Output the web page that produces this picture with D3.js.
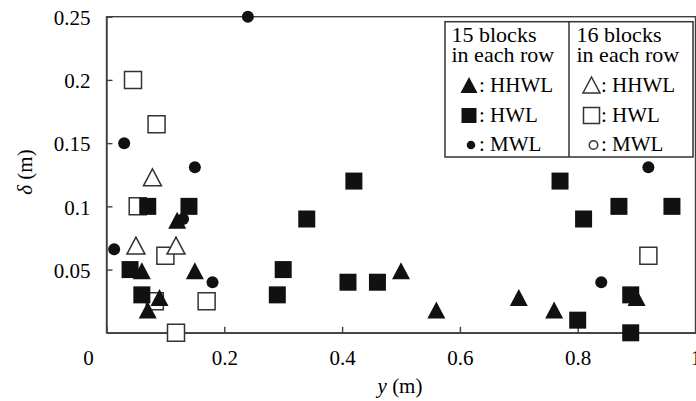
<!DOCTYPE html>
<html>
<head>
<meta charset="utf-8">
<script src="https://cdn.jsdelivr.net/npm/d3@7/dist/d3.min.js"></script>
<style>
  body { margin: 0; background: #fff; }
  svg text { font-family: "Liberation Serif", "Times New Roman", serif !important; }
  .axis path, .axis line { stroke: #404040; stroke-width: 1.4; }
  .frame { fill: none; stroke: #404040; stroke-width: 1.4; }
  .legend-box { fill: #fff; stroke: #333; stroke-width: 1.5; }
  .filled { fill: #111; stroke: none; }
  .open { fill: #fff; stroke: #333; stroke-width: 1.5; }
</style>
</head>
<body>
<svg id="chart" width="696" height="401"></svg>
<script>
// [y (m), delta (m)] pairs
// 15 blocks in each row
let hhwl15 = [[0.12, 0.089], [0.06, 0.049], [0.15, 0.049], [0.09, 0.028], [0.07, 0.018],
              [0.50, 0.049], [0.56, 0.018], [0.70, 0.028], [0.76, 0.018], [0.90, 0.028]];
let hwl15 = [[0.07, 0.10], [0.14, 0.10], [0.04, 0.05], [0.06, 0.03], [0.42, 0.12],
             [0.34, 0.09], [0.30, 0.05], [0.29, 0.03], [0.41, 0.04], [0.46, 0.04],
             [0.77, 0.12], [0.87, 0.10], [0.96, 0.10], [0.81, 0.09], [0.89, 0.03],
             [0.80, 0.01], [0.89, 0.0]];
let mwl15 = [[0.24, 0.25], [0.03, 0.15], [0.15, 0.131], [0.13, 0.09], [0.013, 0.066],
             [0.18, 0.04], [0.92, 0.131], [0.84, 0.04]];
// 16 blocks in each row
let hhwl16 = [[0.078, 0.123], [0.05, 0.069], [0.118, 0.069]];
let hwl16 = [[0.045, 0.20], [0.085, 0.165], [0.053, 0.10], [0.10, 0.061], [0.082, 0.025],
             [0.17, 0.025], [0.118, 0.0], [0.92, 0.061]];
let mwl16 = [];

let xTicks = [0, 0.2, 0.4, 0.6, 0.8, 1];
let xTickLabels = ["0", "0.2", "0.4", "0.6", "0.8", "1"];
let yTicks = [0.05, 0.1, 0.15, 0.2, 0.25];
let yTickLabels = ["0.05", "0.1", "0.15", "0.2", "0.25"];

let svg = d3.select("#chart");

let x = d3.scaleLinear().domain([0, 1]).range([106.5, 695.5]);
let y = d3.scaleLinear().domain([0, 0.25]).range([332.8, 16.7]);

// marker paths, centred on the bounding box
function shape(type, s) {
    let h = s / 2;
    if (type == "triangle") {
        return "M0," + (-h) + "L" + (h + 0.5) + "," + h + "L" + (-h - 0.5) + "," + h + "Z";
    }
    if (type == "square") {
        return "M" + (-h) + "," + (-h) + "h" + s + "v" + s + "h" + (-s) + "Z";
    }
    return d3.arc()({ innerRadius: 0, outerRadius: h, startAngle: 0, endAngle: 2 * Math.PI });
}

// frame
svg.append("rect")
    .attr("class", "frame")
    .attr("x", x(0))
    .attr("y", y(0.25))
    .attr("width", x(1) - x(0))
    .attr("height", y(0) - y(0.25));

// x axis
let gx = svg.append("g")
    .attr("class", "axis axis--x")
    .attr("transform", "translate(0," + y(0) + ")")
    .call(d3.axisBottom(x)
        .tickValues(xTicks)
        .tickFormat((d, i) => xTickLabels[i])
        .tickSizeInner(-6)
        .tickSizeOuter(0)
        .tickPadding(17))
    .attr("font-family", null)
    .attr("font-size", 21);

gx.selectAll(".tick text")
    .attr("fill", "#000")
    .filter(d => d == 0)
    .attr("x", -18.5);

// y axis
svg.append("g")
    .attr("class", "axis axis--y")
    .attr("transform", "translate(" + x(0) + ",0)")
    .call(d3.axisLeft(y)
        .tickValues(yTicks)
        .tickFormat((d, i) => yTickLabels[i])
        .tickSizeInner(-6)
        .tickSizeOuter(0)
        .tickPadding(16))
    .attr("font-family", null)
    .attr("font-size", 21)
    .selectAll(".tick text")
    .attr("fill", "#000")
    .attr("dy", "0.37em");

// axis titles
let xt = svg.append("text")
    .attr("x", 400)
    .attr("y", 393)
    .attr("text-anchor", "middle")
    .attr("font-size", 21);
xt.append("tspan").attr("font-style", "italic").text("y");
xt.append("tspan").text(" (m)");

let yt = svg.append("text")
    .attr("transform", "translate(32,172) rotate(-90)")
    .attr("text-anchor", "middle")
    .attr("font-size", 21);
yt.append("tspan").attr("font-style", "italic").text("δ");
yt.append("tspan").text(" (m)");

// data marks: open series first, filled on top
let series = [
    { data: hwl16, type: "square", size: 17, cls: "open" },
    { data: hhwl16, type: "triangle", size: 17, cls: "open" },
    { data: mwl16, type: "circle", size: 12, cls: "open" },
    { data: mwl15, type: "circle", size: 12, cls: "filled" },
    { data: hwl15, type: "square", size: 17, cls: "filled" },
    { data: hhwl15, type: "triangle", size: 17, cls: "filled" }
];

series.forEach(s => {
    svg.append("g")
        .selectAll("path")
        .data(s.data)
        .enter().append("path")
        .attr("class", s.cls)
        .attr("d", shape(s.type, s.size))
        .attr("transform", d => "translate(" + x(d[0]) + "," + y(d[1]) + ")");
});

// legend
let legend = svg.append("g").attr("class", "legend");

legend.append("rect")
    .attr("class", "legend-box")
    .attr("x", 445)
    .attr("y", 21.7)
    .attr("width", 248)
    .attr("height", 135.3);

legend.append("line")
    .attr("x1", 569).attr("x2", 569)
    .attr("y1", 21.7).attr("y2", 157)
    .attr("stroke", "#333")
    .attr("stroke-width", 1.5);

let columns = [
    { x: 451.5, head: ["15 blocks", "in each row"], cls: "filled", symX: 469, textX: 479,
      rows: [{ type: "triangle", size: 16, label: ": HHWL" },
             { type: "square", size: 15, label: ": HWL" },
             { type: "circle", size: 8.5, label: ": MWL" }] },
    { x: 576.5, head: ["16 blocks", "in each row"], cls: "open", symX: 591.5, textX: 601,
      rows: [{ type: "triangle", size: 16, label: ": HHWL" },
             { type: "square", size: 16, label: ": HWL" },
             { type: "circle", size: 8.5, label: ": MWL" }] }
];
let headY = [41.7, 62];
let rowY = [92, 122, 150.5];
let symY = [85, 115.5, 145];

columns.forEach(c => {
    c.head.forEach((t, i) => {
        legend.append("text")
            .attr("x", c.x)
            .attr("y", headY[i])
            .attr("font-size", 22)
            .text(t);
    });
    c.rows.forEach((r, i) => {
        legend.append("path")
            .attr("class", c.cls)
            .attr("d", shape(r.type, r.size))
            .attr("transform", "translate(" + (r.type == "circle" ? c.symX + 2 : c.symX) + "," + symY[i] + ")");
        legend.append("text")
            .attr("x", c.textX)
            .attr("y", rowY[i])
            .attr("font-size", 21)
            .text(r.label);
    });
});
</script>
</body>
</html>
